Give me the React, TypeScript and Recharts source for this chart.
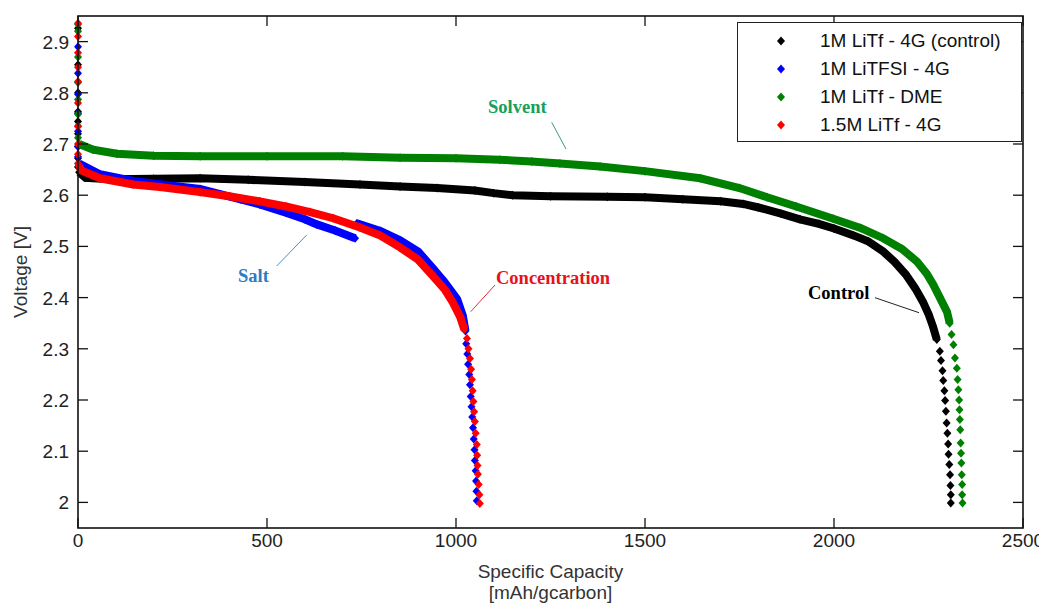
import React from 'react';
import { ComposedChart, Scatter, XAxis, YAxis, Legend } from 'recharts';

const W = 1039;
const H = 597;
const PLOT_LEFT = 70;
const PLOT_TOP = 8;
const PLOT_W = 945;
const PLOT_H = 512;
const PLOT_RIGHT = PLOT_LEFT + PLOT_W;
const PLOT_BOTTOM = PLOT_TOP + PLOT_H;

const X_TICKS = [0, 500, 1000, 1500, 2000, 2500];
const Y_TICKS = [2, 2.1, 2.2, 2.3, 2.4, 2.5, 2.6, 2.7, 2.8, 2.9];
const X_DOMAIN: [number, number] = [0, 2500];
const Y_DOMAIN: [number, number] = [1.95, 2.95];

const SERIES_NAMES = ['1M LiTf - 4G (control)', '1M LiTFSI - 4G', '1M LiTf - DME', '1.5M LiTf - 4G'];
const SERIES_COLORS = ['#000000', '#0000ff', '#008000', '#ff0000'];

// 1M LiTf - 4G (control)
const controlStart = [2.926, 2.855, 2.8, 2.763, 2.744, 2.72, 2.695, 2.672, 2.655];
const controlBand: [number, number][] = [
  [3, 2.645], [20, 2.634], [85, 2.631], [200, 2.632], [323, 2.633], [450, 2.63], [600, 2.626],
  [746, 2.621], [852, 2.617], [950, 2.614], [1050, 2.609], [1100, 2.604], [1150, 2.6], [1250, 2.598],
  [1400, 2.597], [1500, 2.596], [1600, 2.592], [1700, 2.588], [1760, 2.583], [1800, 2.576],
  [1860, 2.564], [1910, 2.553], [1960, 2.544], [2000, 2.535], [2050, 2.522], [2090, 2.51],
  [2130, 2.49], [2160, 2.47], [2190, 2.445], [2215, 2.418], [2235, 2.392], [2250, 2.368],
  [2262, 2.343], [2272, 2.318],
];
const controlTail: [number, number][] = [
  [2280, 2.295], [2283, 2.277], [2287, 2.257], [2289, 2.238], [2292, 2.218], [2294, 2.199],
  [2296, 2.178], [2298, 2.155], [2300, 2.135], [2302, 2.114], [2303, 2.094], [2305, 2.074],
  [2307, 2.054], [2308, 2.033], [2309, 2.015], [2309, 1.999],
];

// 1M LiTFSI - 4G
const litfsiStart = [2.89, 2.838, 2.797, 2.76, 2.725, 2.695, 2.675];
const litfsiBand: [number, number][] = [
  [3, 2.662], [58, 2.641], [146, 2.628], [220, 2.621], [323, 2.612], [376, 2.602], [430, 2.592],
  [481, 2.582], [550, 2.566], [600, 2.553], [632, 2.543], [680, 2.531], [733, 2.516],
];
const litfsiBand2: [number, number][] = [
  [738, 2.545], [800, 2.53], [852, 2.512], [900, 2.49], [939, 2.457], [970, 2.43], [1003, 2.397],
  [1018, 2.365], [1025, 2.335],
];
const litfsiTail: [number, number][] = [
  [1027, 2.31], [1030, 2.29], [1032, 2.27], [1035, 2.25], [1037, 2.23], [1039, 2.207], [1041, 2.187],
  [1043, 2.167], [1045, 2.146], [1047, 2.124], [1049, 2.103], [1050, 2.082], [1052, 2.062],
  [1053, 2.042], [1054, 2.022], [1055, 2.003],
];

// 1M LiTf - DME
const dmeStart = [2.934, 2.92, 2.87, 2.82, 2.787, 2.758, 2.735, 2.712];
const dmeBand: [number, number][] = [
  [3, 2.7], [40, 2.689], [103, 2.681], [200, 2.677], [323, 2.676], [500, 2.676], [700, 2.676],
  [852, 2.673], [1000, 2.672], [1116, 2.669], [1200, 2.666], [1275, 2.662], [1381, 2.656],
  [1500, 2.647], [1646, 2.633], [1750, 2.614], [1823, 2.596], [1900, 2.578], [1998, 2.554],
  [2070, 2.536], [2130, 2.516], [2180, 2.495], [2220, 2.47], [2245, 2.447], [2262, 2.426],
  [2280, 2.4], [2299, 2.372], [2306, 2.35],
];
const dmeTail: [number, number][] = [
  [2311, 2.328], [2316, 2.308], [2320, 2.282], [2325, 2.262], [2327, 2.24], [2329, 2.22],
  [2331, 2.2], [2332, 2.181], [2333, 2.162], [2334, 2.142], [2335, 2.116], [2336, 2.096],
  [2337, 2.077], [2338, 2.054], [2339, 2.035], [2339, 2.015], [2340, 1.999],
];

// 1.5M LiTf - 4G
const concStart = [2.936, 2.91, 2.878, 2.85, 2.822, 2.78, 2.734, 2.7, 2.68, 2.662];
const concBand: [number, number][] = [
  [3, 2.656], [10, 2.648], [58, 2.633], [146, 2.621], [217, 2.616], [323, 2.606], [400, 2.598],
  [481, 2.588], [550, 2.578], [614, 2.567], [675, 2.555], [746, 2.537], [800, 2.521], [852, 2.498],
  [900, 2.474], [939, 2.442], [970, 2.416], [992, 2.39], [1011, 2.362], [1022, 2.338],
];
const concTail: [number, number][] = [
  [1029, 2.32], [1033, 2.3], [1037, 2.281], [1040, 2.26], [1042, 2.24], [1044, 2.218], [1046, 2.197],
  [1048, 2.177], [1050, 2.158], [1052, 2.135], [1055, 2.113], [1056, 2.092], [1057, 2.072],
  [1058, 2.055], [1060, 2.035], [1062, 2.015], [1063, 1.998],
];

const toPts = (arr: [number, number][]) => arr.map(([x, v]) => ({ x, v }));
const atZero = (arr: number[]) => arr.map((v) => ({ x: 0, v }));

const SANS = '"Liberation Sans", Arial, sans-serif';
const SERIF = '"Liberation Serif", "Times New Roman", serif';

const makeDiamond = (color: string) => (props: any) => {
  const { cx, cy } = props;
  if (cx == null || cy == null || isNaN(cx) || isNaN(cy)) return <g />;
  return (
    <polygon
      points={`${cx},${cy - 4.5} ${cx + 4},${cy} ${cx},${cy + 4.5} ${cx - 4},${cy}`}
      fill={color}
    />
  );
};

const XTick = (props: any) => {
  const { x, payload } = props;
  return (
    <g>
      <line x1={x} x2={x} y1={PLOT_BOTTOM} y2={PLOT_BOTTOM - 10} stroke="#111" strokeWidth={1.3} />
      <line x1={x} x2={x} y1={PLOT_TOP} y2={PLOT_TOP + 10} stroke="#111" strokeWidth={1.3} />
      <text x={x} y={PLOT_BOTTOM + 19} textAnchor="middle" fontSize={19} fontFamily={SANS} fill="#222">
        {String(payload.value)}
      </text>
    </g>
  );
};

const YTick = (props: any) => {
  const { y, payload } = props;
  return (
    <g>
      <line x1={PLOT_LEFT} x2={PLOT_LEFT + 10} y1={y} y2={y} stroke="#111" strokeWidth={1.3} />
      <line x1={PLOT_RIGHT} x2={PLOT_RIGHT - 10} y1={y} y2={y} stroke="#111" strokeWidth={1.3} />
      <text x={PLOT_LEFT - 9} y={y + 7} textAnchor="end" fontSize={19} fontFamily={SANS} fill="#222">
        {String(payload.value)}
      </text>
    </g>
  );
};

const XLabel = () => (
  <g>
    <text x={PLOT_LEFT + PLOT_W / 2} y={570} textAnchor="middle" fontSize={19} fontFamily={SANS} fill="#333">
      Specific Capacity
    </text>
    <text x={PLOT_LEFT + PLOT_W / 2} y={591} textAnchor="middle" fontSize={19} fontFamily={SANS} fill="#333">
      [mAh/gcarbon]
    </text>
  </g>
);

const YLabel = () => (
  <text
    x={12}
    y={PLOT_TOP + PLOT_H / 2}
    transform={`rotate(-90 12 ${PLOT_TOP + PLOT_H / 2})`}
    textAnchor="middle"
    dominantBaseline="central"
    fontSize={19}
    fontFamily={SANS}
    fill="#333"
  >
    Voltage [V]
  </text>
);

const LegendBox = () => (
  <div
    style={{
      position: 'relative',
      width: 285,
      height: 120,
      border: '1.5px solid #222',
      boxSizing: 'border-box',
      background: '#fff',
      fontFamily: SANS,
      fontSize: 19,
      color: '#111',
    }}
  >
    {SERIES_NAMES.map((name, i) => {
      const cy = [18.3, 46, 74, 101.6][i];
      return (
        <div key={name}>
          <svg
            width={10}
            height={10}
            style={{ position: 'absolute', left: 37.6, top: cy - 5 }}
          >
            <polygon points="5,0.5 9,5 5,9.5 1,5" fill={SERIES_COLORS[i]} />
          </svg>
          <div style={{ position: 'absolute', left: 82, top: cy - 12, lineHeight: '24px', whiteSpace: 'nowrap' }}>
            {name}
          </div>
        </div>
      );
    })}
  </div>
);

type Group = { band: [number, number][][]; start: number[]; tail: [number, number][] };
const GROUPS: Group[] = [
  { band: [controlBand], start: controlStart, tail: controlTail },
  { band: [litfsiBand, litfsiBand2], start: litfsiStart, tail: litfsiTail },
  { band: [dmeBand], start: dmeStart, tail: dmeTail },
  { band: [concBand], start: concStart, tail: concTail },
];

export default function App() {
  return (
    <div style={{ position: 'relative', width: W, height: H }}>
      <ComposedChart width={W} height={H} margin={{ top: PLOT_TOP, right: W - PLOT_RIGHT, bottom: 0, left: 0 }}>
        <XAxis
          type="number"
          dataKey="x"
          domain={X_DOMAIN}
          ticks={X_TICKS}
          height={H - PLOT_BOTTOM}
          axisLine={false}
          tickLine={false}
          tickSize={0}
          tickMargin={0}
          tick={<XTick />}
          interval={0}
          label={<XLabel />}
        />
        <YAxis
          type="number"
          dataKey="v"
          domain={Y_DOMAIN}
          ticks={Y_TICKS}
          width={PLOT_LEFT}
          axisLine={false}
          tickLine={false}
          tickSize={0}
          tickMargin={0}
          tick={<YTick />}
          interval={0}
          label={<YLabel />}
        />
        <Legend
          layout="vertical"
          align="center"
          verticalAlign="middle"
          wrapperStyle={{ position: 'absolute', left: 729, top: 14, width: 285, height: 120 }}
          content={() => <LegendBox />}
        />
        {GROUPS.map((g, i) => {
          const color = SERIES_COLORS[i];
          const shape = makeDiamond(color);
          return (
            <React.Fragment key={SERIES_NAMES[i]}>
              {g.band.map((b, j) => (
                <Scatter
                  key={`band-${j}`}
                  name={j === 0 ? SERIES_NAMES[i] : `${SERIES_NAMES[i]} (b)`}
                  data={toPts(b)}
                  fill={color}
                  line={{ stroke: color, strokeWidth: 8 }}
                  lineType="joint"
                  shape={shape}
                  legendType={j === 0 ? 'diamond' : 'none'}
                  isAnimationActive={false}
                />
              ))}
              <Scatter
                name={`${SERIES_NAMES[i]} start`}
                data={atZero(g.start)}
                fill={color}
                shape={shape}
                legendType="none"
                isAnimationActive={false}
              />
              <Scatter
                name={`${SERIES_NAMES[i]} tail`}
                data={toPts(g.tail)}
                fill={color}
                shape={shape}
                legendType="none"
                isAnimationActive={false}
              />
            </React.Fragment>
          );
        })}
      </ComposedChart>
      <svg
        width={W}
        height={H}
        style={{ position: 'absolute', left: 0, top: 0, pointerEvents: 'none' }}
      >
        <rect x={PLOT_LEFT} y={PLOT_TOP} width={PLOT_W} height={PLOT_H} fill="none" stroke="#111" strokeWidth={1.6} />
        <line x1={543.7} y1={114.3} x2={558} y2={141} stroke="#3c9c6c" strokeWidth={1} />
        <text x={480} y={105} fontFamily={SERIF} fontWeight="bold" fontSize={18.5} fill="#16a05a">Solvent</text>
        <line x1={298.7} y1={227} x2={268.7} y2={258} stroke="#4a8fc7" strokeWidth={1} />
        <text x={230} y={274} fontFamily={SERIF} fontWeight="bold" fontSize={18.5} fill="#2e7dc0">Salt</text>
        <line x1={487} y1={277} x2={462.7} y2={303.7} stroke="#e2303c" strokeWidth={1} />
        <text x={488} y={276} fontFamily={SERIF} fontWeight="bold" fontSize={18.5} fill="#e8101c">Concentration</text>
        <line x1={867} y1={289.7} x2={911} y2={304.7} stroke="#222" strokeWidth={1} />
        <text x={800} y={291} fontFamily={SERIF} fontWeight="bold" fontSize={18.5} fill="#000">Control</text>
      </svg>
    </div>
  );
}
